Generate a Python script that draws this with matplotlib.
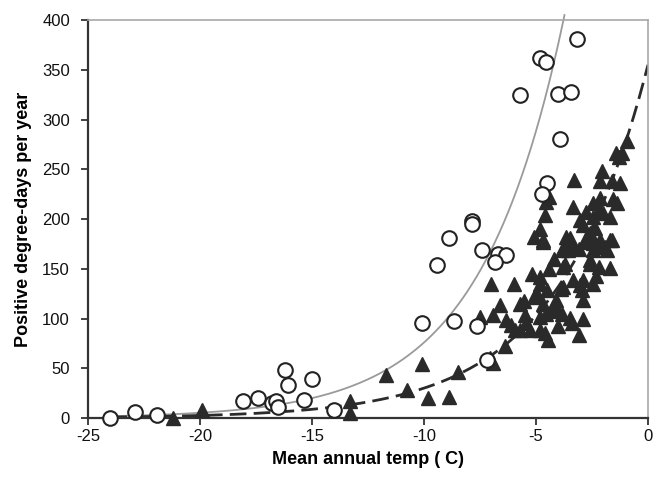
import numpy as np
import matplotlib
matplotlib.use("Agg")
import matplotlib.pyplot as plt

plt.rcParams['font.family'] = ['Liberation Sans', 'DejaVu Sans']
plt.rcParams['axes.unicode_minus'] = False

# Open circles (x = mean annual temp, y = positive degree-days)
circ_x = [-24.0, -22.9, -21.9, -18.1, -17.4, -16.8, -16.6, -16.5, -16.2, -16.05,
          -15.35, -15.0, -14.0, -7.85, -7.85, -8.9, -7.4, -6.7, -6.35, -6.85,
          -9.4, -10.1, -8.65, -7.65, -7.2, -3.15, -4.8, -4.55, -5.7, -4.0,
          -3.45, -3.95, -4.5, -4.75]
circ_y = [0, 6, 3, 17, 20, 15, 17, 11, 48, 33,
          18, 39, 8, 198, 195, 181, 169, 165, 164, 157,
          154, 95, 98, 92, 58, 381, 362, 358, 325, 326,
          328, 280, 236, 225]

# Filled triangles
tri_x = [-21.2, -19.9, -13.3, -13.3, -11.7, -10.1, -10.75, -9.8, -8.9, -8.5,
         -6.9, -7.05, -6.4,
         -7.5, -6.9, -6.6, -6.35, -6.1, -5.7, -5.45, -5.55, -5.7, -5.25,
         -5.95, -5.5, -4.8, -4.8, -4.97, -4.67, -7.0, -6.0, -5.2, -4.8,
         -5.1, -4.8, -4.5, -4.55, -4.6, -4.45, -4.3, -4.0, -4.0, -3.9,
         -4.1, -3.85, -3.5, -3.4, -2.9, -3.1, -3.8, -3.7, -3.33, -3.05,
         -2.95, -2.9, -2.9, -2.6, -2.3, -2.45, -1.7, -2.2, -3.8, -3.85,
         -3.65, -3.35, -3.65, -3.1, -2.6, -2.75, -2.6, -2.45, -2.15, -1.85,
         -1.6, -2.45, -1.9, -2.9, -2.45, -2.15, -1.7, -2.45, -1.4, -3.35,
         -4.6, -4.8, -5.1, -4.7, -4.55, -3.3, -0.95, -1.15, -1.45, -2.05,
         -2.15, -1.6, -1.25, -4.4, -2.15, -1.55, -2.75, -2.0, -2.2, -3.05,
         -2.35, -1.7, -4.7, -3.5, -2.75, -2.15, -3.55, -1.3, -4.2, -4.4]
tri_y = [0, 8, 17, 5, 43, 54, 28, 20, 21, 46,
         55, 60, 72,
         102, 104, 114, 99, 93, 88, 95, 118, 115, 88,
         88, 104, 102, 88, 125, 115, 135, 135, 145, 142,
         122, 135, 129, 105, 85, 78, 110, 108, 92, 130,
         119, 105, 101, 95, 100, 83, 132, 155, 139, 134,
         129, 119, 139, 155, 143, 135, 151, 152, 152, 169,
         174, 172, 182, 170, 159, 177, 186, 176, 172, 169,
         179, 169, 172, 194, 202, 207, 202, 216, 216, 212,
         204, 190, 182, 177, 217, 239, 278, 266, 266, 248,
         238, 238, 236, 222, 221, 220, 207, 206, 209, 199,
         191, 179, 179, 181, 181, 179, 169, 262, 160, 150]

# Exponential fit parameters (y = a * exp(b * x))
grey_a, grey_b = 1096.0, 0.267
dash_a, dash_b = 355.0, 0.247

fig = plt.figure(figsize=(6.63, 4.93), dpi=100)
ax = fig.add_axes([0.1327, 0.1521, 0.8447, 0.8073])

gx = np.linspace(-24, np.log(405 / grey_a) / grey_b, 300)
ax.plot(gx, grey_a * np.exp(grey_b * gx), color='#9a9a9a', lw=1.3, clip_on=False, zorder=2)
dx = np.linspace(-24, 0, 300)
ax.plot(dx, dash_a * np.exp(dash_b * dx), color='#2b2b2b', lw=2.0,
        dashes=(6, 2.6), zorder=2)

ax.plot(tri_x, tri_y, linestyle='none', marker='^', markersize=10.5,
        color='#2a2a2a', markeredgecolor='#2a2a2a', zorder=3, clip_on=False)
ax.plot(circ_x, circ_y, linestyle='none', marker='o', markersize=10.5,
        markerfacecolor='white', markeredgecolor='#222222', markeredgewidth=1.5,
        zorder=4, clip_on=False)

ax.set_xlim(-25, 0)
ax.set_ylim(0, 400)
ax.set_xticks([-25, -20, -15, -10, -5, 0])
ax.set_yticks(range(0, 401, 50))

for s in ['left', 'bottom']:
    ax.spines[s].set_color('#333333')
    ax.spines[s].set_linewidth(1.6)
for s in ['top', 'right']:
    ax.spines[s].set_color('#a8a8a8')
    ax.spines[s].set_linewidth(1.2)

ax.tick_params(axis='both', direction='out', length=5, width=1.3, color='#333333',
               labelsize=12, labelcolor='#111111')
ax.tick_params(axis='y', pad=8)
ax.tick_params(axis='x', pad=3)

ax.set_xlabel('Mean annual temp ( C)', fontsize=13, fontweight='bold', labelpad=5)
ax.set_ylabel('Positive degree-days per year', fontsize=13, fontweight='bold', labelpad=7)

fig.savefig('out.png', dpi=100)
